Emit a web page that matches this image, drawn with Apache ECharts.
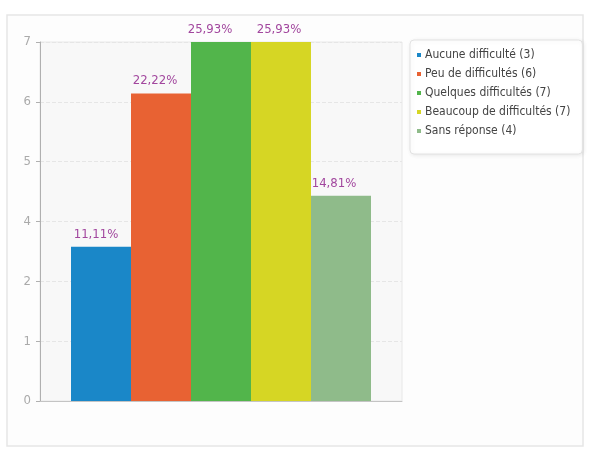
<!DOCTYPE html>
<html>
<head>
<meta charset="utf-8">
<script src="https://cdn.jsdelivr.net/npm/echarts@6/dist/echarts.min.js"></script>
<style>
html,body{margin:0;padding:0;background:#fff;}
#c{width:589px;height:450px;}
</style>
</head>
<body>
<div id="c"></div>
<script>
// Data
var seriesNames = ['Aucune difficulté', 'Peu de difficultés', 'Quelques difficultés', 'Beaucoup de difficultés', 'Sans réponse'];
var counts = [3, 6, 7, 7, 4];
var percentLabels = ['11,11%', '22,22%', '25,93%', '25,93%', '14,81%'];
// The reference axis shows evenly spaced ticks labelled 0,1,2,4,5,6,7;
// bar heights are read in those evenly spaced tick positions
var yTickLabels = ['0', '1', '2', '4', '5', '6', '7'];
var barHeights = [2.58, 5.14, 6, 6, 3.43];
var colors = ['#1a87c8', '#e86233', '#52b54b', '#d6d624', '#8fbb8a'];
// small horizontal shifts of the value labels seen in the reference (style)
var labelShift = [-5, -6, -11, -2, -7];

var chart = echarts.init(document.getElementById('c'), null, {renderer: 'canvas'});
var font = 'DejaVu Sans Condensed, DejaVu Sans, sans-serif';

var series = seriesNames.map(function (n, i) {
  return {
    name: n + ' (' + counts[i] + ')',
    type: 'bar',
    data: [barHeights[i]],
    barWidth: 60,
    barGap: '0%',
    itemStyle: {color: colors[i]},
    label: {
      show: true,
      position: 'top',
      distance: 6,
      offset: [labelShift[i], 0],
      formatter: percentLabels[i],
      color: '#a2479e',
      fontSize: 13,
      fontFamily: font
    }
  };
});

chart.setOption({
  animation: false,
  backgroundColor: '#ffffff',
  graphic: [{
    type: 'rect',
    z: -10,
    silent: true,
    shape: {x: 7, y: 15, width: 576, height: 431},
    style: {fill: '#fdfdfd', stroke: '#e6e6e6', lineWidth: 1.5}
  }],
  legend: {
    orient: 'vertical',
    left: 410,
    top: 40,
    padding: [8, 12, 16, 7],
    backgroundColor: '#ffffff',
    borderColor: '#e2e2e2',
    borderWidth: 1,
    borderRadius: 4,
    shadowColor: 'rgba(0,0,0,0.08)',
    shadowBlur: 4,
    shadowOffsetX: 1,
    shadowOffsetY: 1,
    icon: 'rect',
    itemWidth: 4,
    itemHeight: 4,
    itemGap: 5,
    textStyle: {color: '#444', fontSize: 12, fontFamily: font, lineHeight: 14, padding: [0, 0, 0, -1]},
    data: series.map(function (s) { return s.name; })
  },
  grid: {left: 40, right: 187, top: 42, bottom: 49, show: true, backgroundColor: '#f8f8f8', borderColor: '#e8e8e8', borderWidth: 1},
  xAxis: {
    type: 'category',
    data: [''],
    axisLine: {show: true, lineStyle: {color: '#c4c4c4', width: 1}},
    axisTick: {show: false},
    axisLabel: {show: false}
  },
  yAxis: {
    type: 'value',
    min: 0,
    max: 6,
    interval: 1,
    axisLine: {show: true, lineStyle: {color: '#b0b0b0'}},
    axisTick: {show: true, length: 4, lineStyle: {color: '#b0b0b0'}},
    axisLabel: {
      color: '#aaaaaa',
      fontSize: 13,
      fontFamily: font,
      margin: 9,
      formatter: function (v) { return yTickLabels[Math.round(v)]; }
    },
    splitLine: {show: true, lineStyle: {color: '#e6e6e6', type: 'dashed'}}
  },
  series: series
});
</script>
</body>
</html>
